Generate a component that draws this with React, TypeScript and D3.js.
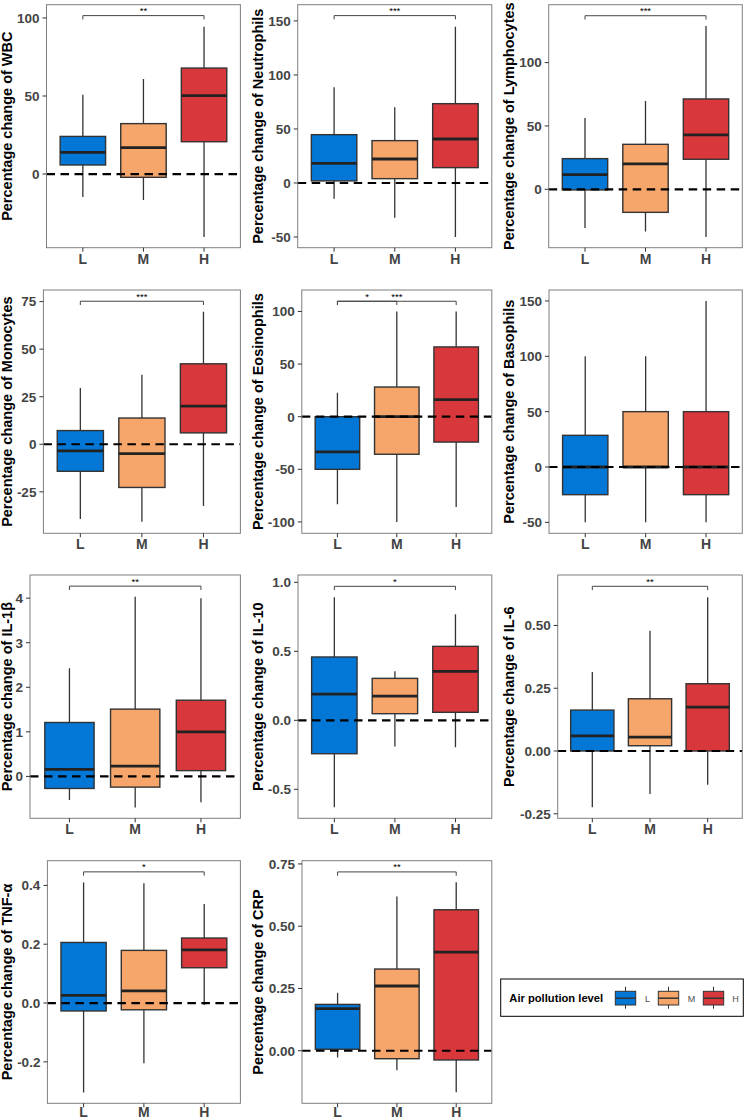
import React from "react";
import * as d3 from "d3";

// ---------- data ----------
const levels = ["L", "M", "H"];
const levelColors = ["#0277D6", "#F7A66B", "#D8383B"];
const markers = ["WBC", "Neutrophils", "Lymphocytes", "Monocytes", "Eosinophils", "Basophils", "IL-1β", "IL-10", "IL-6", "TNF-α", "CRP"];

// [lower whisker, Q1, median, Q3, upper whisker] for L, M, H
const wbcStats = [[-14.7, 5.8, 13.9, 24.1, 50.8], [-16.7, -2.1, 16.9, 32.3, 60.9], [-40.4, 20.7, 50.2, 67.9, 94.4]];
const neutrophilStats = [[-14.5, 1.9, 18.2, 44.7, 88.6], [-32.1, 4.0, 22.2, 39.2, 70.1], [-50, 14.2, 40.7, 73.4, 144.7]];
const lymphocyteStats = [[-30.5, -0.5, 11.6, 24.2, 56.3], [-33.4, -18.2, 20.0, 35.5, 69.7], [-37.6, 23.7, 42.9, 71.3, 128.9]];
const monocyteStats = [[-39.3, -14.2, -3.5, 7.2, 29.6], [-40.7, -22.7, -4.9, 13.8, 36.5], [-32.5, 6.0, 20.1, 42.3, 69.7]];
const eosinophilStats = [[-83.3, -50, -33.5, 0, 22.8], [-100, -35.7, 0, 28.2, 100], [-85.8, -24.1, 16.2, 66.3, 100]];
const basophilStats = [[-50, -25, 0, 28.6, 100], [-50, 0, 0, 50, 100], [-50, -25, 0, 50, 150]];
const il1bStats = [[-0.53, -0.27, 0.157, 1.21, 2.43], [-0.70, -0.24, 0.23, 1.51, 4.03], [-0.58, 0.13, 1.0, 1.71, 4.0]];
const il10Stats = [[-0.63, -0.242, 0.19, 0.459, 0.891], [-0.19, 0.048, 0.176, 0.304, 0.355], [-0.196, 0.058, 0.355, 0.536, 0.768]];
const il6Stats = [[-0.224, 0.0, 0.06, 0.163, 0.315], [-0.171, 0.021, 0.055, 0.208, 0.479], [-0.134, 0.0, 0.175, 0.268, 0.612]];
const tnfStats = [[-0.304, -0.027, 0.026, 0.206, 0.41], [-0.205, -0.023, 0.041, 0.179, 0.407], [-0.007, 0.12, 0.181, 0.221, 0.337]];
const crpStats = [[-0.027, 0.006, 0.169, 0.186, 0.233], [-0.078, -0.032, 0.26, 0.328, 0.619], [-0.167, -0.037, 0.396, 0.566, 0.676]];

const allStats = [wbcStats, neutrophilStats, lymphocyteStats, monocyteStats, eosinophilStats, basophilStats, il1bStats, il10Stats, il6Stats, tnfStats, crpStats];

// y-axis ranges and tick labels
const yDomains = [[-47.2, 108.5], [-59.9, 165], [-46.1, 145.7], [-46.8, 81.1], [-110.8, 120.4], [-59.9, 159.9], [-0.94, 4.52], [-0.71, 1.053], [-0.268, 0.701], [-0.341, 0.484], [-0.211, 0.763]];
const yTickLabels = [
  ["0", "50", "100"],
  ["-50", "0", "50", "100", "150"],
  ["0", "50", "100"],
  ["-25", "0", "25", "50", "75"],
  ["-100", "-50", "0", "50", "100"],
  ["-50", "0", "50", "100", "150"],
  ["0", "1", "2", "3", "4"],
  ["-0.5", "0.0", "0.5", "1.0"],
  ["-0.25", "0.00", "0.25", "0.50"],
  ["-0.2", "0.0", "0.2", "0.4"],
  ["0.00", "0.25", "0.50", "0.75"],
];

// significance brackets: [panel, from, to, label, y]
const brackets: [number, string, string, string, number][] = [
  [0, "L", "H", "**", 101.5],
  [1, "L", "H", "***", 154.9],
  [2, "L", "H", "***", 137],
  [3, "L", "H", "***", 75.2],
  [4, "L", "M", "*", 109.7],
  [4, "L", "H", "***", 109.7],
  [6, "L", "H", "**", 4.27],
  [7, "L", "H", "*", 0.971],
  [8, "L", "H", "**", 0.656],
  [9, "L", "H", "*", 0.446],
  [10, "L", "H", "**", 0.718],
];

// ---------- layout ----------
const colRight = [240.4, 491.8, 742.3];
const rowTop = [4.7, 290, 575, 860.7];
const rowBottom = [247.7, 533.3, 818.3, 1103.3];
const panelLeft = [46.5, 297.7, 548.7, 43.4, 301.8, 549, 30, 298, 557.7, 47.4, 302];
const titleX = [12, 262.7, 513.5];
const FONT = "'Liberation Sans', Arial, Helvetica, sans-serif";

function Panel({ idx }: { idx: number }) {
  const col = idx % 3;
  const row = Math.floor(idx / 3);
  const left = panelLeft[idx];
  const right = colRight[col];
  const top = rowTop[row];
  const bottom = rowBottom[row];
  const x = d3.scalePoint<string>().domain(levels).range([left, right]).padding(0.6);
  const y = d3.scaleLinear().domain(yDomains[idx]).range([bottom, top]);
  const bw = x.step() * 0.75;
  const stats = allStats[idx];
  const clipId = `clip${idx}`;
  const myBrackets = brackets.filter((b) => b[0] === idx);
  const xLabelY = Math.min(bottom + 16, 1116.5);
  return (
    <g>
      <defs>
        <clipPath id={clipId}>
          <rect x={left} y={top} width={right - left} height={bottom - top} />
        </clipPath>
      </defs>
      <g clipPath={`url(#${clipId})`}>
        {levels.map((lv, i) => {
          const [lo, q1, med, q3, hi] = stats[i];
          const cx = x(lv)!;
          return (
            <g key={lv}>
              <line x1={cx} x2={cx} y1={y(lo)} y2={y(hi)} stroke="#333" strokeWidth={1.3} />
              <rect x={cx - bw / 2} y={y(q3)} width={bw} height={y(q1) - y(q3)} fill={levelColors[i]} stroke="#333" strokeWidth={1.4} />
              <line x1={cx - bw / 2} x2={cx + bw / 2} y1={y(med)} y2={y(med)} stroke="#222" strokeWidth={2.8} />
            </g>
          );
        })}
        <line x1={left} x2={right} y1={y(0)} y2={y(0)} stroke="#000" strokeWidth={2.2} strokeDasharray="8.5,5.5" />
        {myBrackets.map((b, k) => {
          const x1 = x(b[1])!;
          const x2 = x(b[2])!;
          const yb = y(b[4]);
          return (
            <g key={k}>
              <path d={`M${x1},${yb + 3.8}V${yb}H${x2}V${yb + 3.8}`} fill="none" stroke="#444" strokeWidth={1} />
              <text x={(x1 + x2) / 2} y={yb - 1.5} fontSize={9.5} fontFamily={FONT} textAnchor="middle" fill="#000">{b[3]}</text>
            </g>
          );
        })}
      </g>
      <rect x={left} y={top} width={right - left} height={bottom - top} fill="none" stroke="#7f7f7f" strokeWidth={1} />
      {yTickLabels[idx].map((t) => {
        const yy = y(+t);
        return (
          <g key={t}>
            <line x1={left - 4} x2={left} y1={yy} y2={yy} stroke="#333" strokeWidth={1} />
            <text x={left - 7} y={yy} dy="0.36em" textAnchor="end" fontSize={13.5} fontWeight="bold" fontFamily={FONT} fill="#444">{t}</text>
          </g>
        );
      })}
      {levels.map((lv) => (
        <g key={lv}>
          <line x1={x(lv)} x2={x(lv)} y1={bottom} y2={bottom + 4} stroke="#333" strokeWidth={1} />
          <text x={x(lv)} y={xLabelY} textAnchor="middle" fontSize={14} fontWeight="bold" fontFamily={FONT} fill="#444">{lv}</text>
        </g>
      ))}
      <text transform={`translate(${titleX[col]},${(top + bottom) / 2}) rotate(-90)`} textAnchor="middle" fontSize={14.5} fontWeight="bold" fontFamily={FONT} fill="#000">
        {`Percentage change of ${markers[idx]}`}
      </text>
    </g>
  );
}

function Legend() {
  const keyX = [615.3, 658.3, 703.3];
  const labelX = [645, 687.7, 732.3];
  return (
    <g>
      <rect x={500.7} y={979} width={242.6} height={37.3} fill="#fff" stroke="#000" strokeWidth={1} />
      <text x={509.3} y={1002} fontSize={11.2} fontWeight="bold" fontFamily={FONT} fill="#000">Air pollution level</text>
      {levels.map((lv, i) => (
        <g key={lv}>
          <line x1={keyX[i] + 10.2} x2={keyX[i] + 10.2} y1={986.7} y2={1008.7} stroke="#333" strokeWidth={1} />
          <rect x={keyX[i]} y={991.3} width={20.4} height={13.7} fill={levelColors[i]} stroke="#333" strokeWidth={1} />
          <line x1={keyX[i]} x2={keyX[i] + 20.4} y1={998.2} y2={998.2} stroke="#333" strokeWidth={1.5} />
          <text x={labelX[i]} y={1002.3} fontSize={9} fontFamily={FONT} fill="#4D4D4D">{lv}</text>
        </g>
      ))}
    </g>
  );
}

export default function App() {
  return (
    <svg width={744} height={1120} viewBox="0 0 744 1120" style={{ position: "absolute", left: 0, top: 0, display: "block", background: "#fff" }}>
      <rect x={0} y={0} width={744} height={1120} fill="#fff" />
      {markers.map((m, i) => (
        <Panel key={m} idx={i} />
      ))}
      <Legend />
    </svg>
  );
}
